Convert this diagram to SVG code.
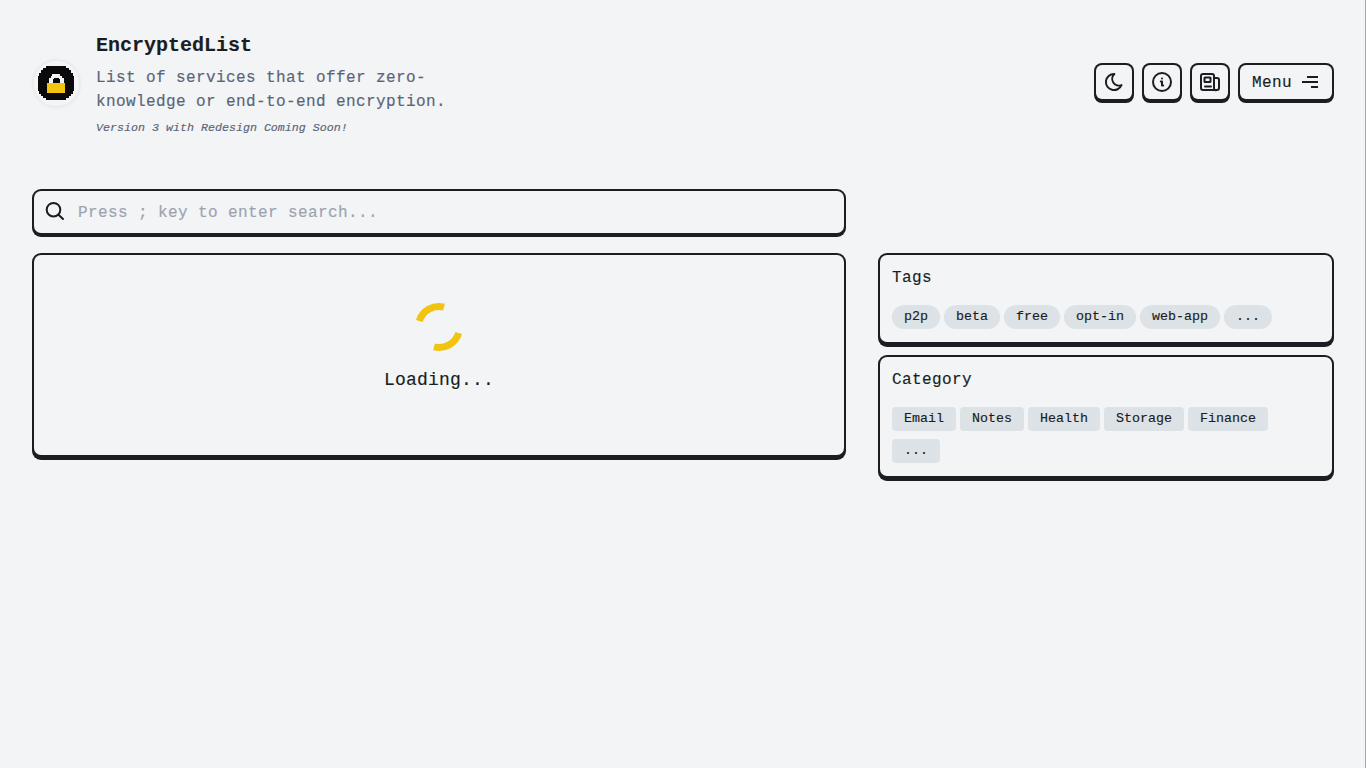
<svg xmlns="http://www.w3.org/2000/svg" width="1366" height="768" viewBox="0 0 1366 768">
<defs>
<filter id="sh" x="-30%" y="-30%" width="160%" height="160%"><feDropShadow dx="0" dy="0" stdDeviation="2" flood-color="#000" flood-opacity="0.12"/></filter>
</defs>
<style>
text{font-family:"Liberation Mono","DejaVu Sans Mono",monospace;fill:#1a1d21;stroke:#1a1d21;stroke-width:.15px}
.edge{fill:#1a1d21}
.face{fill:#f2f4f6}
.ic{fill:none;stroke:#1a1d21;stroke-width:2;stroke-linecap:round;stroke-linejoin:round}
.b16{font-size:16px;letter-spacing:.4px}
text.sub{fill:#5b6477;stroke:#5b6477}
.chip{fill:#dde2e6}
.ct{font-size:13.33px}
.k{fill:#0a0a0a}
</style>
<rect width="1366" height="768" fill="#f2f4f6"/>
<rect x="1361" y="0" width="1" height="768" fill="#f7f8f9"/>
<rect x="1365" y="0" width="1" height="768" fill="#a6a9ad"/>
<g id="header">
<g id="logo">
<circle cx="56.500" cy="83.500" r="22.500" fill="#f4f5f7" filter="url(#sh)"/>
<path class="k" d="M46 66h20v2h3v2h2v3h2v3h1v15h-1v3h-2v2h-2v2h-3v2h-20v-2h-3v-2h-2v-2h-2v-3h-1v-15h1v-3h2v-3h2v-2h3z"/>
<path fill="#f4f4f4" d="M52 74h8v2h2v2h2v6h-4v-5h-1v-1h-5v1h-1v5h-4v-6h2v-2h1z"/>
<rect x="47" y="83" width="18" height="10" fill="#f1c40f"/>
</g>
<text x="96" y="51" font-size="20" font-weight="700">EncryptedList</text>
<text class="b16 sub" x="96" y="82">List of services that offer zero-</text>
<text class="b16 sub" x="96" y="106">knowledge or end-to-end encryption.</text>
<text class="sub" x="96" y="130.500" font-size="11.67" font-style="italic">Version 3 with Redesign Coming Soon!</text>
</g>
<g id="btn-theme">
<rect class="edge" x="1094" y="63" width="40" height="40" rx="8"/><rect class="face" x="1096" y="65" width="36" height="34" rx="6"/>
<path class="ic" transform="translate(1114 82) scale(.9) translate(-12 -12)" style="stroke-width:2.2" d="M12 3c.132 0 .263 0 .393 0a7.5 7.5 0 0 0 7.92 12.446a9 9 0 1 1 -8.313 -12.454z"/>
</g>
<g id="btn-info">
<rect class="edge" x="1142" y="63" width="40" height="40" rx="8"/><rect class="face" x="1144" y="65" width="36" height="34" rx="6"/>
<circle class="ic" cx="1162" cy="82" r="9"/>
<path class="ic" d="M1162 78.500h.01M1160.800 81.500h1.200v4h1.200"/>
</g>
<g id="btn-news">
<rect class="edge" x="1190" y="63" width="40" height="40" rx="8"/><rect class="face" x="1192" y="65" width="36" height="34" rx="6"/>
<path class="ic" d="M1214 78h3a2 2 0 0 1 2 2v8a2 2 0 0 1-2 2h-14a2 2 0 0 1-2-2v-12a2 2 0 0 1 2-2h9a2 2 0 0 1 2 2v12a2 2 0 0 0 3 2"/>
<rect class="ic" x="1204.500" y="77.500" width="6" height="4.500" rx=".5"/>
<path class="ic" d="M1205 86.500h6"/>
</g>
<g id="btn-menu">
<rect class="edge" x="1238" y="63" width="96" height="40" rx="8"/><rect class="face" x="1240" y="65" width="92" height="34" rx="6"/>
<text class="b16" x="1252" y="87">Menu</text>
<path class="ic" style="stroke-linecap:butt" d="M1307 77h11M1302 82h16M1311 87h7"/>
</g>
<g id="search">
<rect class="edge" x="32" y="189" width="814" height="48" rx="9"/><rect class="face" x="34" y="191" width="810" height="42" rx="7"/>
<circle class="ic" cx="53.500" cy="209.700" r="6.800"/>
<path class="ic" d="M58.500 214.700L63 219"/>
<text x="78" y="217" class="b16" style="fill:#9ca3af;stroke:#9ca3af">Press ; key to enter search...</text>
</g>
<g id="loading">
<rect class="edge" x="32" y="253" width="814" height="207" rx="9"/><rect class="face" x="34" y="255" width="810" height="200" rx="7"/>
<path fill="none" stroke="#f1c40f" stroke-width="7" d="M419.300 321A20.500 20.500 0 0 1 444 307.100M458.700 333A20.500 20.500 0 0 1 434 346.900"/>
<text x="384" y="385" font-size="18" letter-spacing=".2">Loading...</text>
</g>
<g id="tags">
<rect class="edge" x="878" y="253" width="456" height="94" rx="9"/><rect class="face" x="880" y="255" width="452" height="87" rx="7"/>
<text class="b16" x="892" y="282">Tags</text>
<rect class="chip" x="892" y="305" width="48" height="24" rx="12"/><text class="ct" x="904" y="320">p2p</text>
<rect class="chip" x="944" y="305" width="56" height="24" rx="12"/><text class="ct" x="956" y="320">beta</text>
<rect class="chip" x="1004" y="305" width="56" height="24" rx="12"/><text class="ct" x="1016" y="320">free</text>
<rect class="chip" x="1064" y="305" width="72" height="24" rx="12"/><text class="ct" x="1076" y="320">opt-in</text>
<rect class="chip" x="1140" y="305" width="80" height="24" rx="12"/><text class="ct" x="1152" y="320">web-app</text>
<rect class="chip" x="1224" y="305" width="48" height="24" rx="12"/><text class="ct" x="1236" y="320">...</text>
</g>
<g id="category">
<rect class="edge" x="878" y="355" width="456" height="126" rx="9"/><rect class="face" x="880" y="357" width="452" height="119" rx="7"/>
<text class="b16" x="892" y="384">Category</text>
<rect class="chip" x="892" y="407" width="64" height="24" rx="4"/><text class="ct" x="904" y="422">Email</text>
<rect class="chip" x="960" y="407" width="64" height="24" rx="4"/><text class="ct" x="972" y="422">Notes</text>
<rect class="chip" x="1028" y="407" width="72" height="24" rx="4"/><text class="ct" x="1040" y="422">Health</text>
<rect class="chip" x="1104" y="407" width="80" height="24" rx="4"/><text class="ct" x="1116" y="422">Storage</text>
<rect class="chip" x="1188" y="407" width="80" height="24" rx="4"/><text class="ct" x="1200" y="422">Finance</text>
<rect class="chip" x="892" y="439" width="48" height="24" rx="4"/><text class="ct" x="904" y="454">...</text>
</g>
<g id="connectors"/>
</svg>
